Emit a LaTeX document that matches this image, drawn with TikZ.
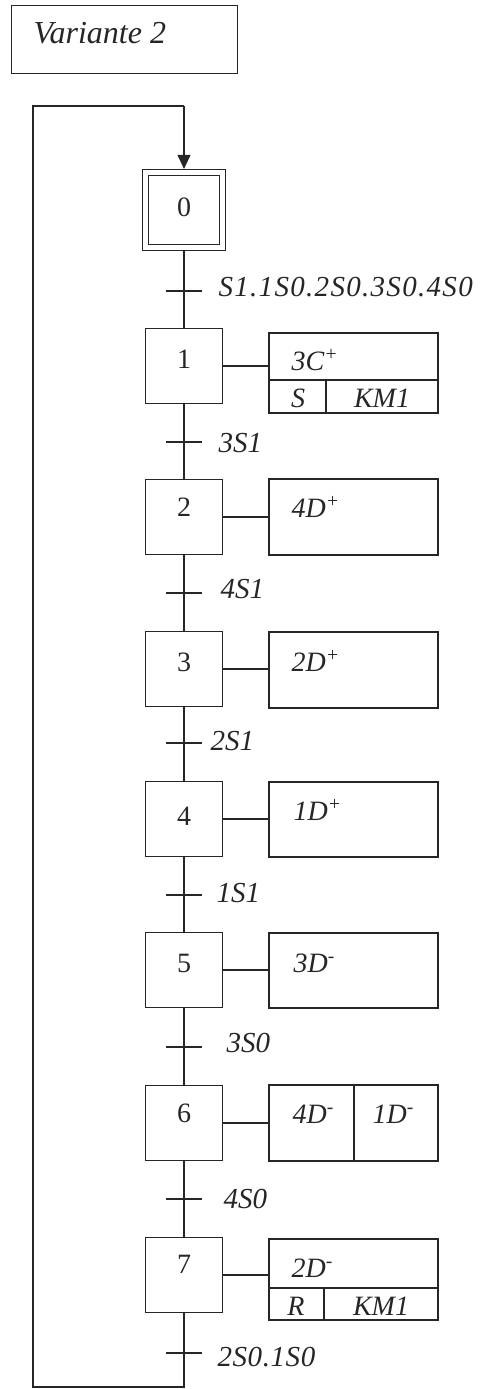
\documentclass[tikz,border=0pt]{standalone}
\usepackage{fontspec}
\setmainfont{Liberation Serif}
\usetikzlibrary{arrows.meta}
\begin{document}
\begin{tikzpicture}[x=1pt,y=-1pt,line width=1.2pt,
  ink/.style={draw=black!85, text=black!85},
  stepbox/.style={ink, draw, minimum width=77pt, minimum height=75pt, inner sep=0pt},
  actbox/.style={ink, draw, minimum width=169pt, inner sep=0pt},
  num/.style={text=black!85, inner sep=0pt, font=\fontsize{28}{30}\selectfont},
  lab/.style={text=black!85, inner sep=0pt, anchor=base west, font=\fontsize{29}{32}\selectfont\itshape},
  act/.style={text=black!85, inner sep=0pt, anchor=base west, font=\fontsize{28}{30}\selectfont\itshape},
  actc/.style={text=black!85, inner sep=0pt, anchor=base, font=\fontsize{28}{30}\selectfont\itshape},
  link/.style={draw=black!85},
  tickline/.style={draw=black!85, line width=1.4pt}
]
\useasboundingbox (0,0) rectangle (487,1389);

% title
\node[ink, draw, minimum width=226pt, minimum height=68pt, anchor=north west, inner sep=0pt] (title) at (11,5) {};
\node[lab, font=\fontsize{32}{35}\selectfont\itshape] (ttext) at (33,44) {Variante 2};

% steps
\node[stepbox, double, double distance=4.8pt, outer sep=3.6pt] (s0) at (184,210) {};
\node[stepbox] (s1) at (184,366) {};
\node[stepbox] (s2) at (184,517) {};
\node[stepbox] (s3) at (184,669) {};
\node[stepbox] (s4) at (184,819) {};
\node[stepbox] (s5) at (184,970) {};
\node[stepbox] (s6) at (184,1123) {};
\node[stepbox] (s7) at (184,1275) {};

\node[num] (n0) at (184,207) {0};
\node[num] (n1) at (184,359) {1};
\node[num] (n2) at (184,507) {2};
\node[num] (n3) at (184,662) {3};
\node[num] (n4) at (184,816) {4};
\node[num] (n5) at (184,963) {5};
\node[num] (n6) at (184,1113) {6};
\node[num] (n7) at (184,1264) {7};

% transitions
\coordinate (t0) at (184,291);
\coordinate (t1) at (184,442);
\coordinate (t2) at (184,593);
\coordinate (t3) at (184,743);
\coordinate (t4) at (184,895);
\coordinate (t5) at (184,1047);
\coordinate (t6) at (184,1199);
\coordinate (t7) at (184,1353);

\draw[link] (s0.south) -- (s1.north);
\draw[link] (s1.south) -- (s2.north);
\draw[link] (s2.south) -- (s3.north);
\draw[link] (s3.south) -- (s4.north);
\draw[link] (s4.south) -- (s5.north);
\draw[link] (s5.south) -- (s6.north);
\draw[link] (s6.south) -- (s7.north);

\foreach \t in {t0,t1,t2,t3,t4,t5,t6,t7}
  \draw[tickline] ([xshift=-18pt]\t) -- ([xshift=18pt]\t);

\node[lab] (l0) at (218,296) {\addfontfeature{LetterSpace=4.5}S1.1S0.2S0.3S0.4S0};
\node[lab] (l1) at (218,452) {3S1};
\node[lab] (l2) at (220,598) {4S1};
\node[lab] (l3) at (210,750) {2S1};
\node[lab] (l4) at (216,902) {1S1};
\node[lab] (l5) at (226,1052) {3S0};
\node[lab] (l6) at (223,1208) {4S0};
\node[lab] (l7) at (217,1366) {\addfontfeature{LetterSpace=2}2S0.1S0};

% loop back
\coordinate (lb) at (33,1387);
\coordinate (lt) at (33,106);
\draw[link] (s7.south) -- (s7.south |- lb) -- (lb) -- (lt) -- (s0.north |- lt);
\draw[link, -{Triangle[width=13pt,length=14pt]}] (s0.north |- lt) -- (s0.north);

% action boxes
\node[actbox, minimum height=80pt] (a1) at (353.5,373) {};
\node[actbox, minimum height=76pt] (a2) at (353.5,517) {};
\node[actbox, minimum height=76pt] (a3) at (353.5,670) {};
\node[actbox, minimum height=75pt] (a4) at (353.5,819.5) {};
\node[actbox, minimum height=75pt] (a5) at (353.5,970.5) {};
\node[actbox, minimum height=76pt] (a6) at (353.5,1123) {};
\node[actbox, minimum height=81pt] (a7) at (353.5,1279.5) {};

\foreach \i in {1,...,7}
  \draw[link] (s\i.east) -- (s\i.east -| a\i.west);

% splits
\coordinate (d1) at (269,380);
\coordinate (e1) at (326,380);
\draw[link] (d1) -- (d1 -| a1.east);
\draw[link] (e1) -- (e1 |- a1.south);
\coordinate (d7) at (269,1288);
\coordinate (e7) at (324,1288);
\draw[link] (d7) -- (d7 -| a7.east);
\draw[link] (e7) -- (e7 |- a7.south);
\coordinate (e6) at (354,1085);
\draw[link] (e6 |- a6.north) -- (e6 |- a6.south);

% action texts
\node[act] (x1) at (291,370) {3C\textsuperscript{+}};
\node[actc] (x1s) at (298,407) {S};
\node[actc] (x1k) at (382,407) {KM1};
\node[act] (x2) at (291,517) {4D\textsuperscript{+}};
\node[act] (x3) at (291,671) {2D\textsuperscript{+}};
\node[act] (x4) at (293,820) {1D\textsuperscript{+}};
\node[act] (x5) at (293,972) {3D\textsuperscript{-}};
\node[act] (x6a) at (292,1123) {4D\textsuperscript{-}};
\node[act] (x6b) at (372,1123) {1D\textsuperscript{-}};
\node[act] (x7) at (291,1277) {2D\textsuperscript{-}};
\node[actc] (x7r) at (296,1315) {R};
\node[actc] (x7k) at (381,1315) {KM1};
\end{tikzpicture}
\end{document}
